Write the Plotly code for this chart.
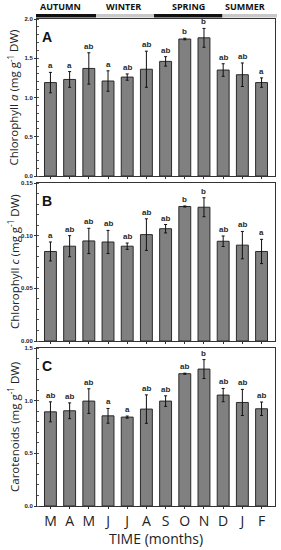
import plotly.graph_objects as go

months = ["M", "A", "M", "J", "J", "A", "S", "O", "N", "D", "J", "F"]
seasons = ["AUTUMN", "WINTER", "SPRING", "SUMMER"]

chl_a = [1.19, 1.23, 1.37, 1.21, 1.26, 1.36, 1.46, 1.745, 1.76, 1.35, 1.29, 1.19]
chl_a_err = [0.13, 0.10, 0.20, 0.13, 0.04, 0.23, 0.06, 0.01, 0.12, 0.08, 0.15, 0.06]
chl_a_sig = ["a", "a", "ab", "a", "ab", "ab", "ab", "b", "b", "ab", "ab", "a"]

chl_c = [0.085, 0.090, 0.095, 0.094, 0.090, 0.101, 0.1066, 0.1277, 0.127, 0.0947, 0.091, 0.085]
chl_c_err = [0.009, 0.010, 0.012, 0.011, 0.003, 0.015, 0.004, 0.0005, 0.009, 0.005, 0.013, 0.0115]
chl_c_sig = ["a", "ab", "ab", "ab", "ab", "ab", "ab", "b", "b", "ab", "ab", "a"]

carot = [0.894, 0.904, 0.996, 0.856, 0.844, 0.92, 0.996, 1.256, 1.30, 1.053, 0.983, 0.923]
carot_err = [0.095, 0.075, 0.117, 0.07, 0.01, 0.135, 0.05, 0.005, 0.09, 0.063, 0.124, 0.064]
carot_sig = ["ab", "ab", "ab", "a", "a", "ab", "ab", "ab", "b", "ab", "ab", "ab"]

panels = [
    ("A", chl_a, chl_a_err, chl_a_sig, [0, 2.0], 0.5, "Chlorophyll <i>a</i> (mg g<sup>-1</sup> DW)", ".1f"),
    ("B", chl_c, chl_c_err, chl_c_sig, [0, 0.15], 0.05, "Chlorophyll <i>c</i> (mg g<sup>-1</sup> DW)", ".2f"),
    ("C", carot, carot_err, carot_sig, [0, 1.5], 0.5, "Carotenoids (mg g<sup>-1</sup> DW)", ".1f"),
]

W, H = 281, 550
L, R, T, B = 37, 6, 19, 44
plot_h = H - T - B
pw = W - L - R

def py(pix):
    return (H - B - pix) / plot_h

def px(pix):
    return (pix - L) / pw

domains = [[py(176), py(19)], [py(341), py(183)], [py(506), py(348)]]

fig = go.Figure()
xs = list(range(len(months)))
annotations = []
for i, (lab, vals, errs, sig, yr, dt, title, fmt) in enumerate(panels):
    n = i + 1
    xa = "x" if n == 1 else f"x{n}"
    ya = "y" if n == 1 else f"y{n}"
    fig.add_trace(go.Bar(
        x=xs, y=vals, xaxis=xa, yaxis=ya, width=0.62,
        marker=dict(color="#808080", line=dict(color="#2a2a2a", width=1)),
        error_y=dict(type="data", array=errs, visible=True, color="#111111", thickness=1, width=1.5),
        showlegend=False, hoverinfo="skip",
    ))
    for x, v, e, s in zip(xs, vals, errs, sig):
        annotations.append(dict(x=x, y=v + e, xref=xa, yref=ya, text=f"<b>{s}</b>", showarrow=False,
                                xanchor="center", yanchor="bottom", yshift=0,
                                font=dict(family="Liberation Sans", size=8, color="#2a2a2a")))
    annotations.append(dict(x=px(47), y=domains[i][1], xref="paper", yref="paper", text=f"<b>{lab}</b>",
                            showarrow=False, xanchor="center", yanchor="top", yshift=-8,
                            font=dict(family="Liberation Sans", size=14, color="#111111")))
    annotations.append(dict(x=px(13), y=sum(domains[i]) / 2, xref="paper", yref="paper",
                            text=title, textangle=-90, showarrow=False, xanchor="center", yanchor="middle",
                            font=dict(family="Open Sans", size=11.5, color="#222222")))
    xkey = "xaxis" if n == 1 else f"xaxis{n}"
    ykey = "yaxis" if n == 1 else f"yaxis{n}"
    xd = dict(
        domain=[0, 1], anchor=ya, range=[-0.7, 11.7], tickmode="array", tickvals=xs,
        showticklabels=(n == 3),
        ticks="outside", ticklen=2, tickcolor="#333", showline=True, linecolor="#333", linewidth=1,
        mirror=True, showgrid=False, zeroline=False,
        tickfont=dict(family="Open Sans", size=14, color="#222"),
    )
    if n == 3:
        xd["ticktext"] = months
    fig.layout[xkey] = xd
    fig.layout[ykey] = dict(
        domain=domains[i], anchor=xa, range=yr, dtick=dt, tickformat=fmt,
        ticks="outside", ticklen=2, tickcolor="#333", showline=True, linecolor="#333", linewidth=1,
        mirror=True, showgrid=False, zeroline=False,
        minor=dict(ticks="inside", ticklen=2, tickcolor="#555", dtick=dt / 5),
        tickfont=dict(family="Liberation Sans", size=6, color="#222", weight="bold"),
    )

annotations.append(dict(x=px(156), y=py(538), xref="paper", yref="paper", text="TIME (months)",
                        showarrow=False, xanchor="center", yanchor="middle",
                        font=dict(family="Open Sans", size=14, color="#222")))

# season bar
season_px = [(36, 96, "#111111"), (96, 154, "#c8c8c8"), (154, 222.5, "#111111"), (222.5, 277, "#c8c8c8")]
label_px = [60, 123, 188, 245]
shapes = []
for (x0, x1, c), s, lx in zip(season_px, seasons, label_px):
    shapes.append(dict(type="rect", xref="paper", yref="paper", x0=px(x0), x1=px(x1),
                       y0=py(17.5), y1=py(14), fillcolor=c, line=dict(width=0)))
    annotations.append(dict(x=px(lx), y=py(6), xref="paper", yref="paper", text=f"<b>{s}</b>",
                            showarrow=False, xanchor="center", yanchor="middle",
                            font=dict(family="Open Sans", size=9, color="#111")))

fig.update_layout(
    width=W, height=H, margin=dict(l=L, r=R, t=T, b=B, autoexpand=False),
    paper_bgcolor="white", plot_bgcolor="white",
    annotations=annotations, shapes=shapes, bargap=0.3,
)
fig.write_html("out.html", config={"displayModeBar": False},
               post_script="document.body.style.margin='0';document.body.style.overflow='hidden';")
